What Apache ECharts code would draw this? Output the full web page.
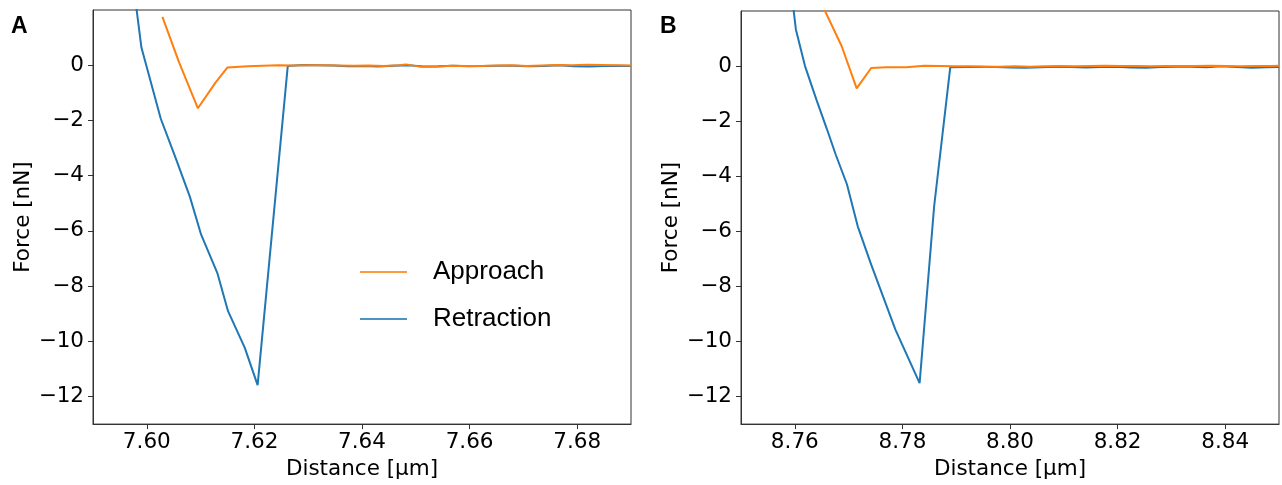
<!DOCTYPE html>
<html>
<head>
<meta charset="utf-8">
<script src="https://cdn.jsdelivr.net/npm/echarts@6/dist/echarts.min.js"></script>
<style>html,body{margin:0;padding:0;background:#fff}#c{width:1282px;height:485px}</style>
</head>
<body>
<div id="c"></div>
<script>
// Panel A data
const retractA_x = [7.5972, 7.5990, 7.6026, 7.6053, 7.6080, 7.6101, 7.6131, 7.6151, 7.6182, 7.6206, 7.6262, 7.6290, 7.6318, 7.6346, 7.6374, 7.6402, 7.6430, 7.6458, 7.6486, 7.6514, 7.6542, 7.6570, 7.6598, 7.6626, 7.6654, 7.6682, 7.6710, 7.6738, 7.6766, 7.6794, 7.6822, 7.6850, 7.6878, 7.6900];
const retractA_y = [3.40, 0.64, -1.94, -3.33, -4.76, -6.14, -7.52, -8.91, -10.23, -11.59, -0.03, 0.01, 0.00, -0.01, -0.04, -0.03, -0.05, -0.02, 0.00, -0.05, -0.04, -0.02, -0.04, -0.03, -0.02, -0.02, -0.04, -0.03, 0.00, -0.04, -0.05, -0.03, -0.02, -0.03];
const approachA_x = [7.6029, 7.6060, 7.6095, 7.6128, 7.6150, 7.6188, 7.6216, 7.6244, 7.6272, 7.6300, 7.6328, 7.6356, 7.6384, 7.6412, 7.6440, 7.6468, 7.6482, 7.6510, 7.6538, 7.6566, 7.6594, 7.6622, 7.6650, 7.6678, 7.6706, 7.6734, 7.6762, 7.6790, 7.6818, 7.6846, 7.6874, 7.6900];
const approachA_y = [1.75, 0.10, -1.56, -0.62, -0.08, -0.04, -0.02, 0.00, -0.01, 0.00, 0.00, -0.01, -0.02, -0.01, -0.03, 0.00, 0.03, -0.06, -0.06, -0.02, -0.03, -0.03, -0.01, 0.00, -0.03, -0.01, 0.01, 0.00, 0.02, 0.01, 0.00, -0.01];
// Panel B data
const retractB_x = [8.7591, 8.7602, 8.7619, 8.7640, 8.7659, 8.7676, 8.7697, 8.7717, 8.7742, 8.7787, 8.7832, 8.7859, 8.7889, 8.7917, 8.7945, 8.7973, 8.8001, 8.8029, 8.8057, 8.8085, 8.8113, 8.8141, 8.8169, 8.8197, 8.8225, 8.8253, 8.8281, 8.8309, 8.8337, 8.8365, 8.8393, 8.8421, 8.8449, 8.8477, 8.8500];
const retractB_y = [3.15, 1.33, 0.00, -1.21, -2.25, -3.21, -4.30, -5.82, -7.21, -9.57, -11.51, -5.09, -0.04, -0.03, -0.02, -0.03, -0.05, -0.06, -0.04, -0.02, -0.03, -0.05, -0.03, -0.02, -0.05, -0.06, -0.03, -0.02, -0.02, -0.04, -0.01, -0.03, -0.06, -0.04, -0.03];
const approachB_x = [8.7637, 8.7687, 8.7715, 8.7742, 8.7770, 8.7807, 8.7841, 8.7869, 8.7897, 8.7925, 8.7953, 8.7981, 8.8009, 8.8037, 8.8065, 8.8093, 8.8121, 8.8149, 8.8177, 8.8205, 8.8233, 8.8261, 8.8289, 8.8317, 8.8345, 8.8373, 8.8401, 8.8429, 8.8457, 8.8485, 8.8500];
const approachB_y = [2.79, 0.73, -0.81, -0.07, -0.04, -0.04, 0.01, 0.00, -0.01, -0.01, -0.02, -0.02, -0.01, -0.02, -0.01, 0.00, -0.01, 0.00, 0.01, 0.00, 0.00, -0.01, 0.00, 0.00, 0.00, 0.01, 0.00, -0.01, 0.00, 0.00, 0.01];

const xTicksA = [7.60, 7.62, 7.64, 7.66, 7.68];
const xTicksB = [8.76, 8.78, 8.80, 8.82, 8.84];
const yTicks = [-12, -10, -8, -6, -4, -2, 0];
const xRangeA = [7.59, 7.69];
const xRangeB = [8.75, 8.85];
const yRange = [-13, 2];

const BLUE = '#1f77b4', ORANGE = '#ff7f0e';
const TICK_FONT = 'DejaVu Sans';
const zip = (xs, ys) => xs.map((x, i) => [x, ys[i]]);

function xAxis(gi, range, ticks) {
  return {
    type: 'value', gridIndex: gi, min: range[0], max: range[1],
    name: 'Distance [\u03bcm]', nameLocation: 'middle', nameGap: 31,
    nameTextStyle: {fontFamily: TICK_FONT, fontSize: 21.5, color: '#000'},
    axisLine: {show: true, onZero: false, lineStyle: {color: '#333', width: 1}},
    axisTick: {show: true, length: 5, customValues: ticks, lineStyle: {color: '#333'}},
    splitLine: {show: false},
    axisLabel: {customValues: ticks, margin: 7, fontFamily: TICK_FONT, fontSize: 21.5, color: '#000',
      formatter: v => v.toFixed(2)}
  };
}
function yAxis(gi) {
  return {
    type: 'value', gridIndex: gi, min: yRange[0], max: yRange[1],
    name: 'Force [nN]', nameLocation: 'middle', nameGap: 58, nameRotate: 90,
    nameTextStyle: {fontFamily: TICK_FONT, fontSize: 21.5, color: '#000'},
    axisLine: {show: true, onZero: false, lineStyle: {color: '#333', width: 1}},
    axisTick: {show: true, length: 5, customValues: yTicks, lineStyle: {color: '#333'}},
    splitLine: {show: false},
    axisLabel: {customValues: yTicks, margin: 9, fontFamily: TICK_FONT, fontSize: 21.5, color: '#000',
      formatter: v => (v < 0 ? '\u2212' + Math.abs(v) : String(v))}
  };
}
function line(name, gi, data, color, z) {
  return {name, type: 'line', xAxisIndex: gi, yAxisIndex: gi, data, showSymbol: false, symbol: 'none',
    lineStyle: {color, width: 2}, itemStyle: {color}, clip: true, z, animation: false};
}

const chart = echarts.init(document.getElementById('c'), null, {renderer: 'canvas'});
chart.setOption({
  animation: false,
  backgroundColor: '#fff',
  grid: [
    {left: 93, top: 10, width: 538, height: 415, show: true, borderColor: '#333', borderWidth: 1, backgroundColor: 'transparent'},
    {left: 741, top: 11, width: 538, height: 414, show: true, borderColor: '#333', borderWidth: 1, backgroundColor: 'transparent'}
  ],
  xAxis: [xAxis(0, xRangeA, xTicksA), xAxis(1, xRangeB, xTicksB)],
  yAxis: [yAxis(0), yAxis(1)],
  legend: {
    orient: 'vertical', left: 355, top: 254, itemWidth: 47, itemHeight: 2, itemGap: 21, icon: 'rect',
    textStyle: {fontFamily: 'Liberation Sans', fontSize: 26, color: '#000', padding: [0, 0, 0, 21]},
    data: [
      {name: 'Approach', itemStyle: {color: ORANGE, opacity: 0.8}},
      {name: 'Retraction', itemStyle: {color: BLUE, opacity: 0.8}}
    ],
    selectedMode: false
  },
  graphic: [
    {type: 'text', left: 11, top: 15, style: {text: 'A', font: 'bold 23px "Liberation Sans"', fill: '#000'}},
    {type: 'text', left: 660, top: 15, style: {text: 'B', font: 'bold 23px "Liberation Sans"', fill: '#000'}}
  ],
  series: [
    line('Retraction', 0, zip(retractA_x, retractA_y), BLUE, 2),
    line('Approach', 0, zip(approachA_x, approachA_y), ORANGE, 3),
    line('Retraction', 1, zip(retractB_x, retractB_y), BLUE, 2),
    line('Approach', 1, zip(approachB_x, approachB_y), ORANGE, 3)
  ]
});
</script>
</body>
</html>
